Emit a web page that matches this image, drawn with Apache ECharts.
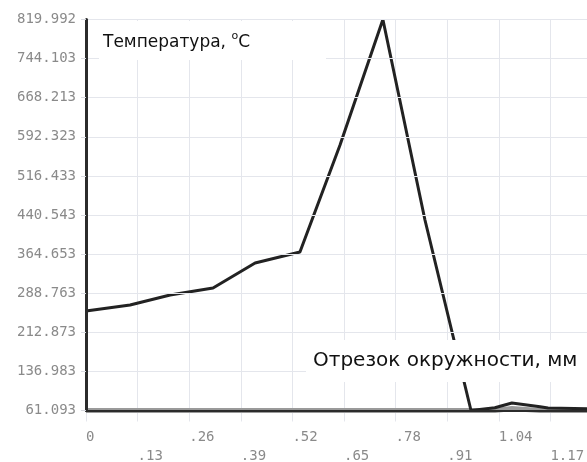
<!DOCTYPE html>
<html>
<head>
<meta charset="utf-8">
<script src="https://cdn.jsdelivr.net/npm/echarts@6/dist/echarts.min.js"></script>
<style>
  html, body { margin: 0; padding: 0; background: #fff; }
  #chart { width: 587px; height: 462px; }
</style>
</head>
<body>
<div id="chart"></div>
<script>
// Температура вдоль отрезка окружности
const yMin = 61.093;
const yMax = 819.992;
const yTickLabels = ['61.093', '136.983', '212.873', '288.763', '364.653', '440.543',
  '516.433', '592.323', '668.213', '744.103', '819.992'];
const xTickLabels = ['0', '.13', '.26', '.39', '.52', '.65', '.78', '.91', '1.04', '1.17', '1.3'];

// основная кривая температуры
const tempX = [0, 0.111, 0.212, 0.32, 0.426, 0.539, 0.64, 0.748, 0.854, 0.97, 1.03, 1.073, 1.144, 1.164, 1.3];
const tempY = [254.2, 265.9, 285.3, 298.9, 347.4, 368.7, 576.4, 819.992, 430.8, 61.093, 66.5, 75.6, 68.5, 65.9, 64.0];

// нижняя кривая
const baseX = [0, 1.03, 1.073, 1.144, 1.3];
const baseY = [61.093, 61.093, 65.0, 61.093, 61.093];

const pairs = (xs, ys) => xs.map((x, i) => [x, ys[i]]);

const labelFont = { fontFamily: 'DejaVu Sans Mono', fontSize: 14, color: '#8a8a8a' };

const chart = echarts.init(document.getElementById('chart'), null, { renderer: 'canvas' });
chart.setOption({
  animation: false,
  backgroundColor: '#fff',
  title: [
    {
      text: 'Температура, {sup|o}C',
      left: 99, top: 21,
      padding: [10, 76, 9, 4],
      backgroundColor: '#fff',
      textStyle: {
        fontFamily: 'DejaVu Sans', fontSize: 17, fontWeight: 'normal', color: '#111',
        rich: { sup: { fontFamily: 'DejaVu Sans', fontSize: 11, color: '#111', verticalAlign: 'top', padding: [0, 0, 12, 0] } }
      }
    },
    {
      text: 'Отрезок окружности, мм',
      left: 306, top: 340,
      padding: [9, 30, 9, 7],
      backgroundColor: '#fff',
      textStyle: { fontFamily: 'DejaVu Sans', fontSize: 20, lineHeight: 24, fontWeight: 'normal', color: '#111' }
    }
  ],
  grid: { left: 86, right: -15, top: 19.5, bottom: 51.5, containLabel: false, outerBoundsMode: 'none' },
  xAxis: [
    {
      type: 'value', min: 0, max: 1.3, interval: 0.13,
      axisLine: { show: false },
      axisTick: { show: true, length: 11, lineStyle: { color: '#e4e6ec', width: 1 } },
      splitLine: { show: true, lineStyle: { color: '#e4e6ec', width: 1 } },
      axisLabel: {
        ...labelFont, align: 'left', margin: 17, lineHeight: 19, showMaxLabel: false,
        formatter: (v, i) => (i % 2 ? '\n' : '') + xTickLabels[i]
      }
    },
    {
      type: 'value', min: 0, max: 1.3, position: 'bottom', z: 5,
      axisLine: { show: true, onZero: false, lineStyle: { color: '#2b2b2b', width: 2 } },
      axisTick: { show: false }, splitLine: { show: false }, axisLabel: { show: false }
    }
  ],
  yAxis: {
    type: 'value', min: yMin, max: yMax, interval: (yMax - yMin) / 10, z: 5,
    axisLine: { show: true, lineStyle: { color: '#2b2b2b', width: 3 } },
    axisTick: { show: true, length: 5, lineStyle: { color: '#d8dae0' } },
    splitLine: { show: true, lineStyle: { color: '#e4e6ec', width: 1 } },
    axisLabel: { ...labelFont, margin: 10, formatter: (v, i) => yTickLabels[i] }
  },
  series: [
    {
      type: 'line', data: pairs(baseX, baseY), symbol: 'none', z: 1,
      lineStyle: { color: '#9a9a9a', width: 5 }
    },
    {
      type: 'line', data: pairs(tempX, tempY), symbol: 'none', z: 2,
      lineStyle: { color: '#222', width: 3 }
    }
  ]
});
</script>
</body>
</html>
